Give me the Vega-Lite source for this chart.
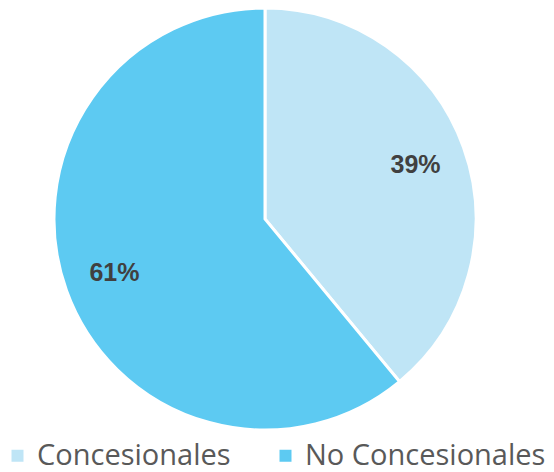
{
  "$schema": "https://vega.github.io/schema/vega-lite/v6.json",
  "width": 530,
  "height": 438,
  "padding": {"left": 0, "top": 0, "right": 24, "bottom": 34},
  "autosize": {"type": "none"},
  "background": "white",
  "view": {"stroke": null},
  "data": {"values": [
    {"tipo": "Concesionales", "valor": 39, "orden": 1, "label": "39%"},
    {"tipo": "No Concesionales", "valor": 61, "orden": 2, "label": "61%"}
  ]},
  "encoding": {
    "theta": {"field": "valor", "type": "quantitative", "stack": true},
    "order": {"field": "orden", "type": "quantitative"},
    "color": {
      "field": "tipo", "type": "nominal",
      "scale": {"domain": ["Concesionales", "No Concesionales"], "range": ["#BFE5F6", "#5DCAF2"]},
      "legend": {
        "title": null, "orient": "none", "direction": "horizontal",
        "legendX": 3, "legendY": 441,
        "symbolType": "square", "symbolSize": 144, "symbolStrokeWidth": 0,
        "labelFontSize": 29, "labelFont": "Open Sans", "labelColor": "#595959",
        "labelOffset": 5, "columnPadding": 40, "labelLimit": 400
      }
    }
  },
  "layer": [
    {"mark": {"type": "arc", "outerRadius": 211, "stroke": "white", "strokeWidth": 3}},
    {"mark": {"type": "text", "radius": 160, "fontSize": 25, "fontWeight": "bold", "font": "Liberation Sans", "fill": "#404040"},
     "encoding": {"text": {"field": "label"}}}
  ]
}
